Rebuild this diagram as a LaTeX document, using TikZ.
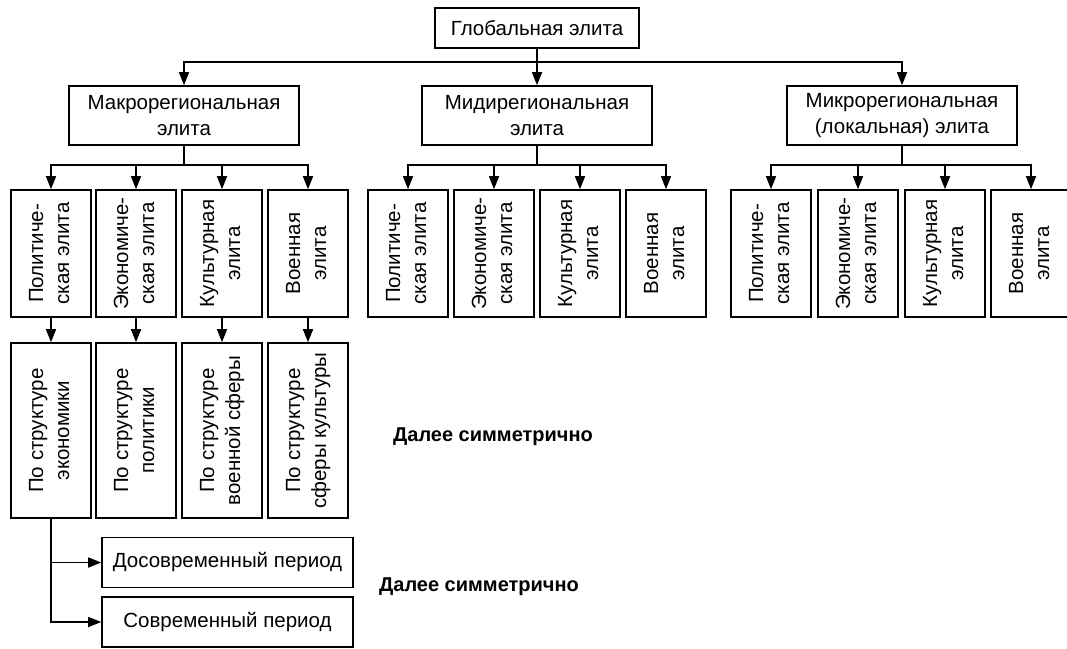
\documentclass[tikz,border=0pt]{standalone}
\usepackage{fontspec}
\setmainfont{Liberation Sans}
\usetikzlibrary{arrows.meta}
\newcommand{\vt}[1]{\rotatebox{90}{\begin{tabular}{@{}c@{}}#1\end{tabular}}}
\begin{document}
\begin{tikzpicture}[x=1pt,y=-1pt,
  every node/.style={font=\fontsize{20.5}{26}\selectfont},
  box/.style={draw,line width=1.6pt,inner sep=0pt,align=center},
  hbox/.style={box,minimum width=230pt,minimum height=59pt},
  vbox/.style={box,minimum width=80pt,minimum height=127pt},
  lbox/.style={box,minimum width=80pt,minimum height=175pt},
  pbox/.style={box,minimum width=251pt,minimum height=50pt},
  note/.style={font=\bfseries\fontsize{20}{24}\selectfont},
  ln/.style={line width=1.6pt},
  arr/.style={line width=1.6pt,-{Triangle[length=13pt,width=10pt]}}]
\useasboundingbox (0,0) rectangle (1067,648);

% level 1
\node[box,minimum width=204pt,minimum height=40pt] (g) at (537,28) {Глобальная элита};

% level 2
\node[hbox] (ma) at (184,115.5) {Макрорегиональная\\элита};
\node[hbox] (mi) at (537,115.5) {Мидирегиональная\\элита};
\node[hbox] (mc) at (902,115.5) {Микрорегиональная\\(локальная) элита};

\draw[ln] (g.south) -- ++(0,13) coordinate (gj);
\draw[arr] (gj) -| (ma.north);
\draw[arr] (gj) -- (mi.north);
\draw[arr] (gj) -| (mc.north);

% level 3 - macro
\node[vbox] (a1) at (51,253.5) {\vt{Политиче-\\ская элита}};
\node[vbox] (a2) at (136,253.5) {\vt{Экономиче-\\ская элита}};
\node[vbox] (a3) at (222,253.5) {\vt{Культурная\\элита}};
\node[vbox] (a4) at (308,253.5) {\vt{Военная\\элита}};
% level 3 - midi
\node[vbox] (b1) at (408,253.5) {\vt{Политиче-\\ская элита}};
\node[vbox] (b2) at (494,253.5) {\vt{Экономиче-\\ская элита}};
\node[vbox] (b3) at (580,253.5) {\vt{Культурная\\элита}};
\node[vbox] (b4) at (666,253.5) {\vt{Военная\\элита}};
% level 3 - micro
\node[vbox] (c1) at (771,253.5) {\vt{Политиче-\\ская элита}};
\node[vbox] (c2) at (858,253.5) {\vt{Экономиче-\\ская элита}};
\node[vbox] (c3) at (945,253.5) {\vt{Культурная\\элита}};
\node[vbox] (c4) at (1031,253.5) {\vt{Военная\\элита}};

\draw[ln] (ma.south) -- ++(0,19) coordinate (aj);
\foreach \n in {a1,a2,a3,a4} \draw[arr] (aj) -| (\n.north);
\draw[ln] (mi.south) -- ++(0,19) coordinate (bj);
\foreach \n in {b1,b2,b3,b4} \draw[arr] (bj) -| (\n.north);
\draw[ln] (mc.south) -- ++(0,19) coordinate (cj);
\foreach \n in {c1,c2,c3,c4} \draw[arr] (cj) -| (\n.north);

% level 4
\node[lbox] (e1) at (51,430.5) {\vt{По структуре\\экономики}};
\node[lbox] (e2) at (136,430.5) {\vt{По структуре\\политики}};
\node[lbox] (e3) at (222,430.5) {\vt{По структуре\\военной сферы}};
\node[lbox] (e4) at (308,430.5) {\vt{По структуре\\сферы культуры}};
\draw[arr] (a1) -- (e1);
\draw[arr] (a2) -- (e2);
\draw[arr] (a3) -- (e3);
\draw[arr] (a4) -- (e4);

% level 5
\node[pbox] (p1) at (227.5,562.5) {Досовременный период};
\node[pbox] (p2) at (227.5,622) {Современный период};
\draw[arr] (e1.south) |- (p1.west);
\draw[arr] (e1.south) |- (p2.west);

% notes
\node[note] (n1) at (493,437) {Далее симметрично};
\node[note] (n2) at (479,587) {Далее симметрично};
\end{tikzpicture}
\end{document}
